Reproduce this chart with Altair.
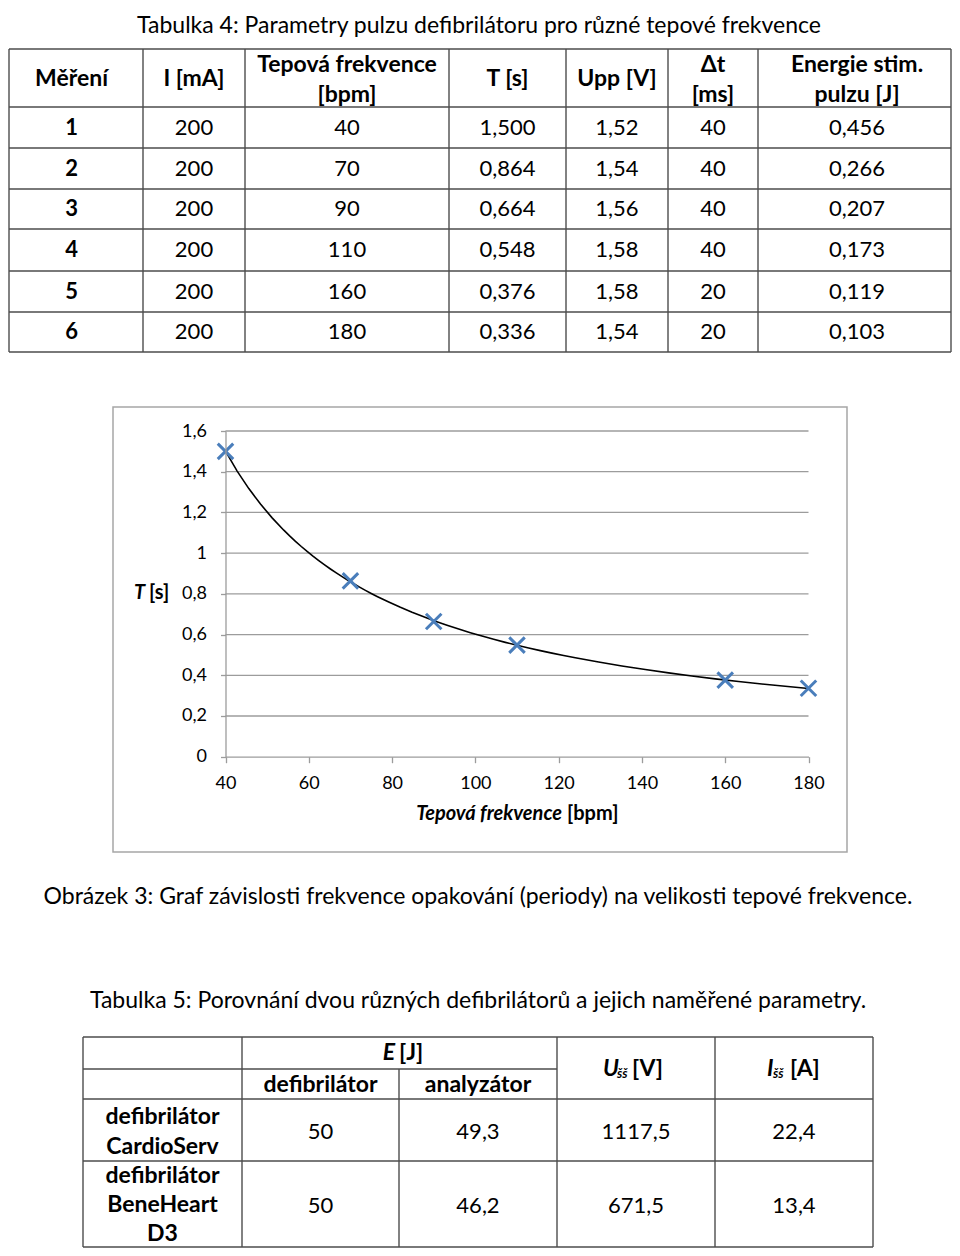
import altair as alt
import pandas as pd

# ---------------- data ----------------
t4_mereni = [1, 2, 3, 4, 5, 6]
t4_proud_mA = [200, 200, 200, 200, 200, 200]
t4_tep_bpm = [40, 70, 90, 110, 160, 180]
t4_perioda_s = [1.500, 0.864, 0.664, 0.548, 0.376, 0.336]
t4_upp_V = [1.52, 1.54, 1.56, 1.58, 1.58, 1.54]
t4_dt_ms = [40, 40, 40, 40, 20, 20]
t4_energie_J = [0.456, 0.266, 0.207, 0.173, 0.119, 0.103]
t4_header = [["Měření"], ["I [mA]"], ["Tepová frekvence", "[bpm]"], ["T [s]"],
             ["Upp [V]"], ["Δt", "[ms]"], ["Energie stim.", "pulzu [J]"]]

t5_devices = [["defibrilátor", "CardioServ"], ["defibrilátor", "BeneHeart", "D3"]]
t5_E_defib = [50, 50]
t5_E_analyz = [49.3, 46.2]
t5_U = [1117.5, 671.5]
t5_I = [22.4, 13.4]

x_ticks = [40, 60, 80, 100, 120, 140, 160, 180]
y_ticks = [0, 0.2, 0.4, 0.6, 0.8, 1.0, 1.2, 1.4, 1.6]

title4 = "Tabulka 4: Parametry pulzu defibrilátoru pro různé tepové frekvence"
caption3 = "Obrázek 3: Graf závislosti frekvence opakování (periody) na velikosti tepové frekvence."
title5 = "Tabulka 5: Porovnání dvou různých defibrilátorů a jejich naměřené parametry."

# ---------------- layout (page pixels) ----------------
W, H, M = 944, 1240, 8
FONT = "Lato, 'DejaVu Sans', sans-serif"
LINE = "#4d4d4d"
DOC = 23      # running text / headers
NUM = 22      # numbers in tables
AXL = 18      # tick labels
AXT = 20      # axis titles

T4_EDGES = [0, 143, 245, 449, 566, 668, 758, 956]
T4_LINES_X = [max(M + 1, min(M + W - 1, v)) for v in T4_EDGES]
T4_ROWS = [49, 107, 148, 189, 229, 271, 312, 352]
T5_X = [83, 242, 399, 557, 715, 873]
T5_Y = [1037, 1069, 1099, 1161, 1247]
BOX = (113, 407, 847, 852)
PLOT_X = (225.5, 808.5)
PLOT_Y = (756.7, 431.0)


def cz(v, d):
    return f"{v:.{d}f}".replace(".", ",")


def px_x(field="x"):
    return alt.X(f"{field}:Q", scale=alt.Scale(domain=[M, M + W], nice=False, zero=False), axis=None)


def px_y(field="y"):
    return alt.Y(f"{field}:Q", scale=alt.Scale(domain=[M, M + H], nice=False, zero=False, reverse=True), axis=None)


texts = []  # (x, y, text, size, weight, style, align)


def T(x, y, t, size=DOC, weight="normal", style="normal", align="center"):
    texts.append((x, y, t, size, weight, style, align))


# titles / captions
T(479, 26, title4)
T(478, 897, caption3)
T(478, 1001, title5)

# table 4
centers4 = [(T4_EDGES[i] + T4_EDGES[i + 1]) / 2 for i in range(7)]
for c, lines in zip(centers4, t4_header):
    if len(lines) == 1:
        T(c, 79, lines[0], weight="bold")
    else:
        T(c, 65, lines[0], weight="bold")
        T(c, 95, lines[1], weight="bold")
for r in range(6):
    yc = (T4_ROWS[r + 1] + T4_ROWS[r + 2]) / 2
    row = [str(t4_mereni[r]), str(t4_proud_mA[r]), str(t4_tep_bpm[r]), cz(t4_perioda_s[r], 3),
           cz(t4_upp_V[r], 2), str(t4_dt_ms[r]), cz(t4_energie_J[r], 3)]
    for i, val in enumerate(row):
        T(centers4[i], yc, val, size=NUM, weight="bold" if i == 0 else "normal")

# table 5 header
T(395, 1053, "E", weight="bold", style="italic", align="right")
T(399, 1053, "[J]", weight="bold", align="left")
T((T5_X[1] + T5_X[2]) / 2, 1085, "defibrilátor", weight="bold")
T((T5_X[2] + T5_X[3]) / 2, 1085, "analyzátor", weight="bold")
T(603, 1069, "U", weight="bold", style="italic", align="left")
T(617, 1074, "šš", size=13, weight="bold", style="italic", align="left")
T(632, 1069, "[V]", weight="bold", align="left")
T(767, 1069, "I", weight="bold", style="italic", align="left")
T(773, 1074, "šš", size=13, weight="bold", style="italic", align="left")
T(790, 1069, "[A]", weight="bold", align="left")
# table 5 body
dev_y = [[1117, 1147], [1176, 1205, 1234]]
val_y = [1132, 1206]
for r in range(2):
    for name, yy in zip(t5_devices[r], dev_y[r]):
        T((T5_X[0] + T5_X[1]) / 2, yy, name, weight="bold")
    vals = [str(t5_E_defib[r]), cz(t5_E_analyz[r], 1), cz(t5_U[r], 1), cz(t5_I[r], 1)]
    for i, v in enumerate(vals):
        T((T5_X[i + 1] + T5_X[i + 2]) / 2, val_y[r], v, size=NUM)

# chart axis titles (mixed styles)
T(134, 593, "T", size=AXT, weight="bold", style="italic", align="left")
T(149, 593, "[s]", size=AXT, weight="bold", align="left")
T(562, 814, "Tepová frekvence", size=AXT, weight="bold", style="italic", align="right")
T(567, 814, "[bpm]", size=AXT, weight="bold", align="left")

# table lines
segs = []
for yy in T4_ROWS:
    segs.append((T4_LINES_X[0], T4_LINES_X[-1], yy, yy))
for xx in T4_LINES_X:
    segs.append((xx, xx, T4_ROWS[0], T4_ROWS[-1]))
segs.append((T5_X[0], T5_X[-1], T5_Y[0], T5_Y[0]))
segs.append((T5_X[0], T5_X[3], T5_Y[1], T5_Y[1]))
for yy in T5_Y[2:]:
    segs.append((T5_X[0], T5_X[-1], yy, yy))
for i, xx in enumerate(T5_X):
    segs.append((xx, xx, T5_Y[1] if i == 2 else T5_Y[0], T5_Y[-1]))
seg_df = pd.DataFrame(segs, columns=["x", "x2", "y", "y2"])

doc_layers = []
box_df = pd.DataFrame([{"x": BOX[0], "y": BOX[1], "x2": BOX[2], "y2": BOX[3]}])
doc_layers.append(
    alt.Chart(box_df).mark_rect(fill="transparent", stroke="#a6a6a6", strokeWidth=1.5)
    .encode(x=px_x(), x2="x2:Q", y=px_y(), y2="y2:Q")
)
doc_layers.append(
    alt.Chart(seg_df).mark_rule(color=LINE, strokeWidth=1.4)
    .encode(x=px_x(), x2="x2:Q", y=px_y(), y2="y2:Q")
)

tdf = pd.DataFrame(texts, columns=["x", "y", "t", "size", "weight", "style", "align"])
for (size, weight, style, align), g in tdf.groupby(["size", "weight", "style", "align"]):
    doc_layers.append(
        alt.Chart(g[["x", "y", "t"]]).mark_text(
            font=FONT, fontSize=float(size), fontWeight=weight, fontStyle=style,
            align=align, baseline="middle", color="black")
        .encode(x=px_x(), y=px_y(), text="t:N")
    )
doc = alt.layer(*doc_layers)

# ---------------- the plot ----------------
pts = pd.DataFrame({"bpm": t4_tep_bpm, "T": t4_perioda_s})
grid_df = pd.DataFrame({"T": y_ticks[1:], "lo": x_ticks[0], "hi": x_ticks[-1]})
GRID = "#9c9c9c"

xs = alt.Scale(domain=[x_ticks[0], x_ticks[-1]], range=[PLOT_X[0] - M, PLOT_X[1] - M], nice=False, zero=False)
ys = alt.Scale(domain=[y_ticks[0], y_ticks[-1]], range=[PLOT_Y[0] - M, PLOT_Y[1] - M], nice=False, zero=False)
x_axis = alt.Axis(orient="bottom", offset=-(H - (PLOT_Y[0] - M)), values=x_ticks, format="d",
                  title=None, grid=False, domainColor=GRID, tickColor=GRID, domainWidth=1.3, tickWidth=1.3,
                  tickSize=6, labelFont=FONT, labelFontSize=AXL, labelColor="black", labelPadding=12,
                  labelFlush=False, labelOverlap=False, zindex=1)
y_axis = alt.Axis(orient="left", offset=-(PLOT_X[0] - M), values=y_ticks,
                  labelExpr="replace(format(datum.value, '~g'), '.', ',')",
                  title=None, grid=False, domainColor=GRID, tickColor=GRID, domainWidth=1.3, tickWidth=1.3,
                  tickSize=5, labelFont=FONT, labelFontSize=AXL, labelColor="black", labelPadding=14,
                  labelOverlap=False, labelFlush=False, zindex=1)

grid = alt.Chart(grid_df).mark_rule(color=GRID, strokeWidth=1.3).encode(
    x=alt.X("lo:Q", scale=xs, axis=x_axis), x2="hi:Q", y=alt.Y("T:Q", scale=ys, axis=y_axis))
curve = alt.Chart(pts).transform_regression("bpm", "T", method="pow").mark_line(
    color="black", strokeWidth=1.6).encode(
    x=alt.X("bpm:Q", scale=xs, axis=x_axis), y=alt.Y("T:Q", scale=ys, axis=y_axis))
points = alt.Chart(pts).mark_point(
    shape="M-1,-1L1,1M-1,1L1,-1", filled=False, stroke="#4a7ebb", strokeWidth=3, size=240, opacity=1
).encode(x=alt.X("bpm:Q", scale=xs, axis=x_axis), y=alt.Y("T:Q", scale=ys, axis=y_axis))
plot = alt.layer(grid, curve, points)

chart = (
    alt.layer(doc, plot)
    .resolve_scale(x="independent", y="independent")
    .properties(width=W, height=H, padding=0, autosize=alt.AutoSizeParams(type="none"),
                background="white")
    .configure_view(stroke=None)
)

chart.save("out.html", embed_options={"renderer": "svg", "actions": False})
